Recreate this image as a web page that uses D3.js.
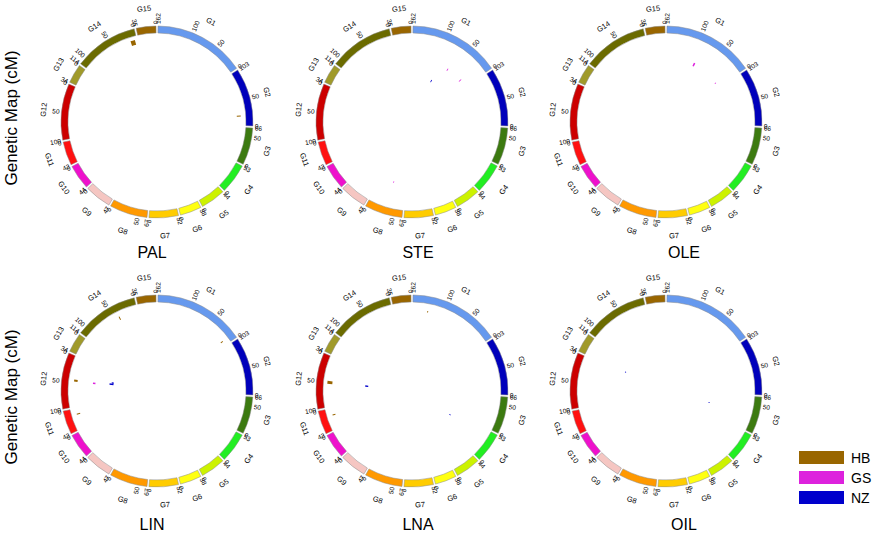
<!DOCTYPE html>
<html>
<head>
<meta charset="utf-8">
<script src="https://cdn.jsdelivr.net/npm/d3@7"></script>
<style>
  body { margin: 0; background: #fff; }
  svg { display: block; }
  text { font-family: "Liberation Sans", Arial, Helvetica, sans-serif; fill: #000; }
</style>
</head>
<body>
<svg id="chart" width="876" height="537"></svg>
<script>
// traits, one circle each
const traits = ["PAL", "STE", "OLE", "LIN", "LNA", "OIL"];

// linkage groups and their lengths (cM)
const chroms = ["G1", "G2", "G3", "G4", "G5", "G6", "G7", "G8", "G9", "G10", "G11", "G12", "G13", "G14", "G15"];
const chromLengths = [162, 103, 66, 53, 44, 38, 52, 67, 47, 44, 42, 100, 34, 114, 35];
const chromColors = ["#6699ee", "#0000bb", "#3c7a10", "#22ee22", "#ccf200", "#ffff11", "#ffcc00", "#ff9900",
                     "#f5c6c2", "#ee11cc", "#ff1111", "#cc0000", "#a09a2a", "#6b6b00", "#996600"];

// populations (legend)
const populations = ["HB", "GS", "NZ"];
const popColors = ["#996600", "#dd22dd", "#0000cc"];

// QTL per trait: [population, group, start cM, end cM, LOD]
const qtlPAL = [["HB", "G14", 4, 13, 6.7], ["HB", "G2", 18, 20, 5.3]];
const qtlSTE = [["GS", "G1", 63, 65, 3.3], ["NZ", "G1", 89, 92, 3.3], ["GS", "G1", 19, 21, 4], ["GS", "G8", 34, 36, 2]];
const qtlOLE = [["GS", "G1", 86, 90, 4.7], ["GS", "G1", 11, 13, 2]];
const qtlLIN = [["HB", "G14", 38, 40, 4.7], ["HB", "G1", 8, 10, 3.3], ["HB", "G11", 11, 13, 4.7],
                ["HB", "G12", 45, 49, 4.7], ["GS", "G12", 46, 50, 3.3], ["NZ", "G12", 41, 46, 5.3],
                ["NZ", "G12", 36, 41, 2.7]];
const qtlLNA = [["HB", "G1", 130, 132, 2], ["HB", "G12", 48, 54, 6.7], ["NZ", "G12", 48, 53, 4],
                ["HB", "G11", 13, 15, 4], ["NZ", "G4", 38, 41, 2]];
const qtlOIL = [["NZ", "G13", 31, 34, 1.6], ["NZ", "G3", 31, 34, 1.6]];
const qtlByTrait = [qtlPAL, qtlSTE, qtlOLE, qtlLIN, qtlLNA, qtlOIL];

const svg = d3.select("svg#chart");

// panel grid
const centersX = [157, 412, 666];
const centersY = [122, 391];
const titleX = [152, 418, 684];
const titleY = [258, 530];

const rInner = 89, rOuter = 96;
const gapDeg = 1.17;
const degPerCM = (360 - gapDeg * chroms.length) / d3.sum(chromLengths);
const rad = d => d * Math.PI / 180;

// angular layout of the groups, 0 cM at the clockwise end
let cursor = gapDeg / 2;
const layout = chroms.map((name, i) => {
  const s = cursor, e = cursor + chromLengths[i] * degPerCM;
  cursor = e + gapDeg;
  return {
    name, len: chromLengths[i], color: chromColors[i], s, e,
    scale: d3.scaleLinear().domain([chromLengths[i], 0]).range([s, e])
  };
});
const byName = new Map(layout.map(d => [d.name, d]));

const trackBase = d3.scaleOrdinal().domain(populations).range([80, 62, 44]);
const popColor = d3.scaleOrdinal().domain(populations).range(popColors);
const lodHeight = d3.scaleLinear().domain([0, 8]).range([0, 6]);

const ringArc = d3.arc().innerRadius(rInner).outerRadius(rOuter);

traits.forEach((trait, ti) => {
  const col = ti % 3, row = Math.floor(ti / 3);
  const g = svg.append("g")
    .attr("transform", `translate(${centersX[col]}, ${centersY[row]})`);

  // ring segments
  g.selectAll("path.chrom")
    .data(layout)
    .enter()
    .append("path")
    .attr("class", "chrom")
    .attr("d", d => ringArc({ startAngle: rad(d.s), endAngle: rad(d.e) }))
    .attr("fill", d => d.color)
    .attr("stroke", "#8a8a8a")
    .attr("stroke-width", 0.5);

  // tick labels
  const ticks = [];
  layout.forEach(d => {
    d3.range(0, d.len, 50).filter(v => d.len - v > 12).forEach(v => ticks.push({ v, a: d.scale(v) }));
    ticks.push({ v: d.len, a: d.scale(d.len) });
  });
  g.selectAll("text.tick")
    .data(ticks)
    .enter()
    .append("text")
    .attr("class", "tick")
    .attr("font-size", 6.5)
    .attr("dominant-baseline", "central")
    .attr("text-anchor", d => d.a < 180 ? "start" : "end")
    .attr("transform", d => {
      const x = 98 * Math.sin(rad(d.a)), y = -98 * Math.cos(rad(d.a));
      const rot = d.a < 180 ? d.a - 90 : d.a + 90;
      return `translate(${x}, ${y}) rotate(${rot})`;
    })
    .text(d => d.v);

  // group names
  g.selectAll("text.cname")
    .data(layout)
    .enter()
    .append("text")
    .attr("class", "cname")
    .attr("font-size", 7.5)
    .attr("text-anchor", "middle")
    .attr("dominant-baseline", "central")
    .attr("transform", d => {
      const m = (d.s + d.e) / 2;
      const x = 114 * Math.sin(rad(m)), y = -114 * Math.cos(rad(m));
      const rot = (m > 90 && m < 270) ? m - 180 : m;
      return `translate(${x}, ${y}) rotate(${rot})`;
    })
    .text(d => d.name);

  // QTL marks
  g.selectAll("path.qtl")
    .data(qtlByTrait[ti])
    .enter()
    .append("path")
    .attr("class", "qtl")
    .attr("d", d => {
      const c = byName.get(d[1]);
      const a0 = c.scale(d[2]), a1 = c.scale(d[3]);
      const base = trackBase(d[0]);
      return d3.arc()({
        innerRadius: base, outerRadius: base + lodHeight(d[4]),
        startAngle: rad(Math.min(a0, a1)), endAngle: rad(Math.max(a0, a1))
      });
    })
    .attr("fill", d => popColor(d[0]));

  // title
  svg.append("text")
    .attr("x", titleX[col])
    .attr("y", titleY[row])
    .attr("text-anchor", "middle")
    .attr("font-size", 16)
    .text(trait);
});

// y labels
centersY.forEach((cy, i) => {
  svg.append("text")
    .attr("transform", `translate(17, ${i === 0 ? 118 : 397}) rotate(-90)`)
    .attr("text-anchor", "middle")
    .attr("font-size", 17)
    .text("Genetic Map (cM)");
});

// legend
const legend = svg.append("g").attr("transform", "translate(799, 451)");
populations.forEach((p, i) => {
  legend.append("rect")
    .attr("x", 0).attr("y", i * 20)
    .attr("width", 45).attr("height", 13)
    .attr("fill", popColor(p));
  legend.append("text")
    .attr("x", 52).attr("y", i * 20 + 6.5)
    .attr("dominant-baseline", "central")
    .attr("font-size", 14)
    .text(p);
});
</script>
</body>
</html>
